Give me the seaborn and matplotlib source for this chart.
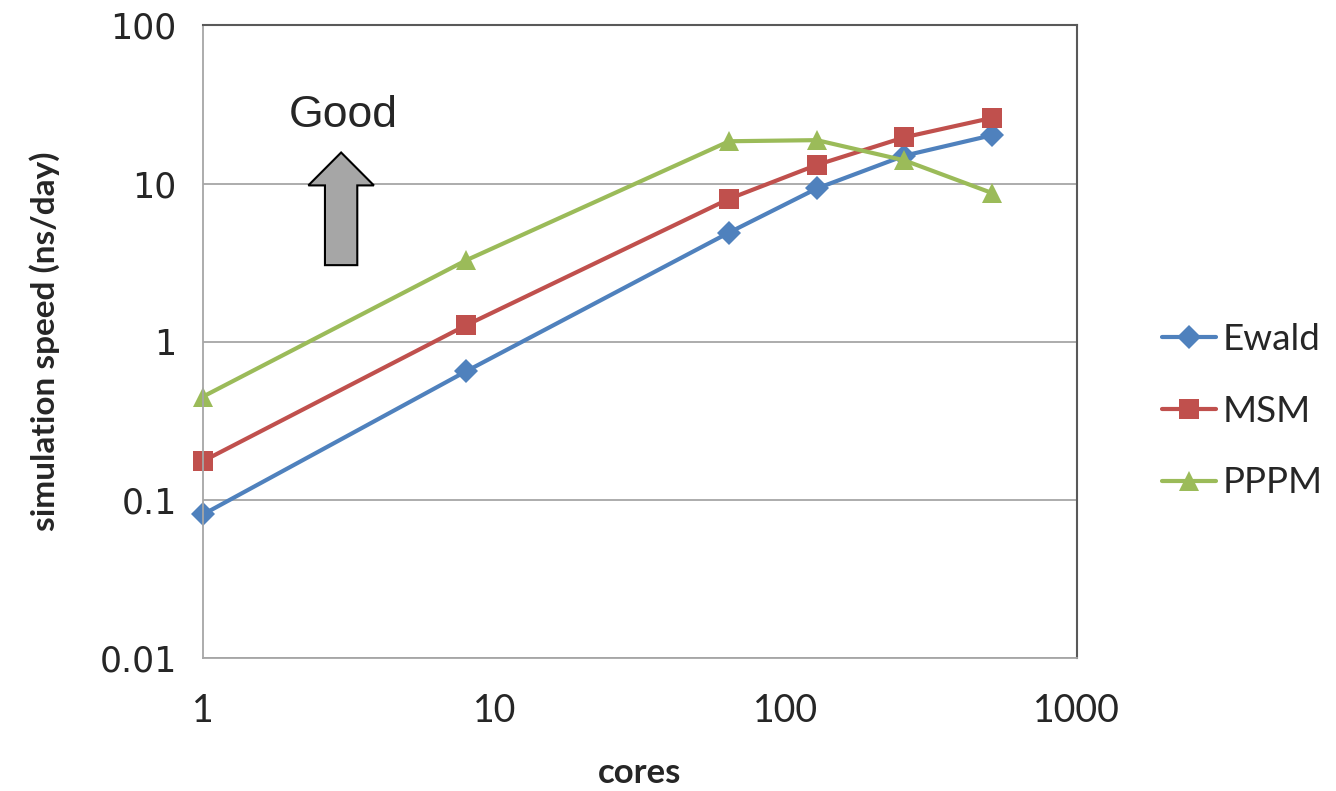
"""
Scaling plot: simulation speed vs number of cores for three
long-range solvers (Ewald, MSM, PPPM), log-log axes.
"""

import matplotlib
matplotlib.use("Agg")
import matplotlib.pyplot as plt
import matplotlib.patches as mpatches
import matplotlib.ticker as mticker
import seaborn as sns
import pandas as pd

cores = [1, 8, 64, 128, 256, 512]
ewald = [0.081, 0.65, 4.9, 9.3, 15.0, 20.2]
msm = [0.176, 1.27, 8.0, 13.1, 19.6, 26.0]
pppm = [0.45, 3.27, 18.5, 18.8, 14.0, 8.7]

methods = ["Ewald", "MSM", "PPPM"]
colors = {"Ewald": "#4F81BD", "MSM": "#C0504D", "PPPM": "#9BBB59"}
markers = {"Ewald": "D", "MSM": "s", "PPPM": "^"}

x_ticks = [1, 10, 100, 1000]
x_tick_labels = ["1", "10", "100", "1000"]
y_ticks = [0.01, 0.1, 1, 10, 100]
y_tick_labels = ["0.01", "0.1", "1", "10", "100"]

df = pd.DataFrame({
    "cores": cores * 3,
    "speed": ewald + msm + pppm,
    "method": [m for m in methods for _ in cores],
})

sns.set_style("white")
plt.rcParams["font.family"] = ["Lato", "DejaVu Sans"]

fig = plt.figure(figsize=(13.36, 7.91), dpi=100)
ax = fig.add_axes([0.152, 0.168, 0.654, 0.800])

sns.lineplot(
    data=df, x="cores", y="speed", hue="method", style="method",
    palette=colors, markers=markers, dashes=False, ax=ax,
    linewidth=3, markersize=15, markeredgewidth=0, legend=True,
    clip_on=False,
)
# diamonds are drawn a bit smaller than squares / triangles
for line in ax.lines:
    if line.get_marker() == "D":
        line.set_markersize(12.5)

ax.set_xscale("log")
ax.set_yscale("log")
ax.set_xlim(1, 1000)
ax.set_ylim(0.01, 100)
ax.set_xticks(x_ticks)
ax.set_xticklabels(x_tick_labels)
ax.set_yticks(y_ticks)
ax.set_yticklabels(y_tick_labels)
ax.xaxis.set_minor_locator(mticker.NullLocator())
ax.yaxis.set_minor_locator(mticker.NullLocator())

ax.yaxis.grid(True, color="#A6A6A6", linewidth=1.3)
ax.xaxis.grid(False)
ax.set_axisbelow(True)

for side in ["left", "bottom"]:
    ax.spines[side].set_color("#A6A6A6")
    ax.spines[side].set_linewidth(1.3)
for side in ["top", "right"]:
    ax.spines[side].set_color("#595959")
    ax.spines[side].set_linewidth(1.5)

ax.tick_params(axis="x", direction="out", length=9, width=1.3, color="#A6A6A6",
               labelsize=27, pad=16)
ax.tick_params(axis="y", direction="out", length=9, width=1.3, color="#A6A6A6",
               labelsize=25, pad=10)
for lab in ax.get_yticklabels():
    lab.set_fontfamily("DejaVu Sans")

ax.set_xlabel("cores", fontsize=25, fontweight="bold", labelpad=20)
ax.set_ylabel("simulation speed (ns/day)", fontsize=24, fontweight="bold", labelpad=28)

# "Good" arrow
arrow = mpatches.FancyArrow(
    0.158, 0.621, 0, 0.126, width=0.037, head_width=0.075, head_length=0.052,
    length_includes_head=False, transform=ax.transAxes,
    facecolor="#A6A6A6", edgecolor="black", linewidth=1.5, zorder=5,
)
ax.add_patch(arrow)
ax.text(0.161, 0.858, "Good", transform=ax.transAxes, ha="center", va="center",
        fontsize=32, family=["Liberation Sans", "DejaVu Sans"])

handles, labels = ax.get_legend_handles_labels()
ax.legend(handles, labels, loc="center left", bbox_to_anchor=(1.098, 0.39),
          frameon=False, fontsize=26.5, handlelength=1.45, handletextpad=0.18,
          labelspacing=1.05, borderaxespad=0, borderpad=0)

fig.savefig("out.png", dpi=100)
